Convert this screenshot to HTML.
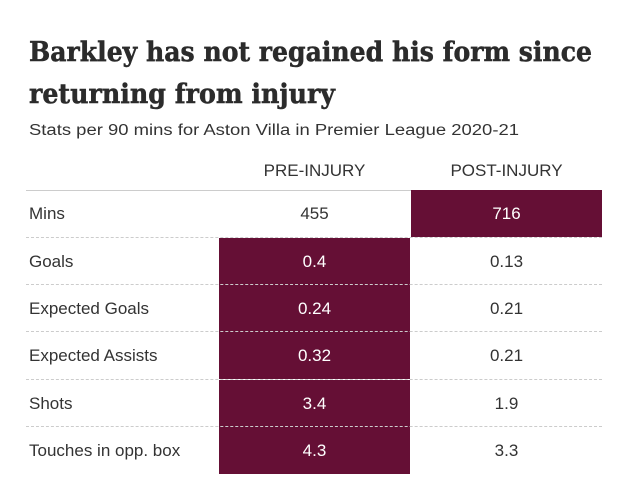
<!DOCTYPE html>
<html><head><meta charset="utf-8"><style>
body{margin:0;width:630px;height:501px;background:#fff;overflow:hidden;position:relative;font-family:"Liberation Sans",sans-serif;color:#333}
.t{position:absolute;white-space:nowrap}
.row{position:absolute;left:0;width:630px;height:47px}
.lab{position:absolute;left:29px;top:0;line-height:47px;font-size:17px;color:#333}
.c{position:absolute;top:0;height:47px;line-height:47px;width:191px;text-align:center;font-size:17px;color:#333}
.p{left:219px}.q{left:411px}
.f{background:#650f35;color:#fff}
.sep{position:absolute;left:26px;width:576px;border-top:1px dashed #ccc;height:0}
</style></head><body>
<svg width="630" height="140" style="position:absolute;left:0;top:0">
<text x="29" y="61" font-family="DejaVu Serif" font-weight="bold" font-size="27" fill="#2b2b2b" stroke="#2b2b2b" stroke-width="0.5" textLength="563" lengthAdjust="spacingAndGlyphs">Barkley has not regained his form since</text>
<text x="29" y="103" font-family="DejaVu Serif" font-weight="bold" font-size="27" fill="#2b2b2b" stroke="#2b2b2b" stroke-width="0.5" textLength="306" lengthAdjust="spacingAndGlyphs">returning from injury</text>
<text x="29" y="135" font-family="Liberation Sans" font-size="15.5" fill="#333" textLength="490" lengthAdjust="spacingAndGlyphs">Stats per 90 mins for Aston Villa in Premier League 2020-21</text>
</svg>
<div class="t" style="left:219px;width:191px;text-align:center;top:161px;font-size:17px">PRE-INJURY</div>
<div class="t" style="left:411px;width:191px;text-align:center;top:161px;font-size:17px">POST-INJURY</div>
<div style="position:absolute;left:26px;top:190px;width:576px;border-top:1px solid #ccc"></div>
<div class="row" style="top:190px"><div class="lab">Mins</div><div class="c p">455</div><div class="c q f">716</div></div>
<div class="sep" style="top:237px"></div>
<div class="row" style="top:238px"><div class="lab">Goals</div><div class="c p f">0.4</div><div class="c q">0.13</div></div>
<div class="sep" style="top:284px"></div>
<div class="row" style="top:285px"><div class="lab">Expected Goals</div><div class="c p f">0.24</div><div class="c q">0.21</div></div>
<div class="sep" style="top:331px"></div>
<div class="row" style="top:332px"><div class="lab">Expected Assists</div><div class="c p f">0.32</div><div class="c q">0.21</div></div>
<div class="sep" style="top:379px"></div>
<div class="row" style="top:380px"><div class="lab">Shots</div><div class="c p f">3.4</div><div class="c q">1.9</div></div>
<div class="sep" style="top:426px"></div>
<div class="row" style="top:427px"><div class="lab">Touches in opp. box</div><div class="c p f">4.3</div><div class="c q">3.3</div></div>
</body></html>
